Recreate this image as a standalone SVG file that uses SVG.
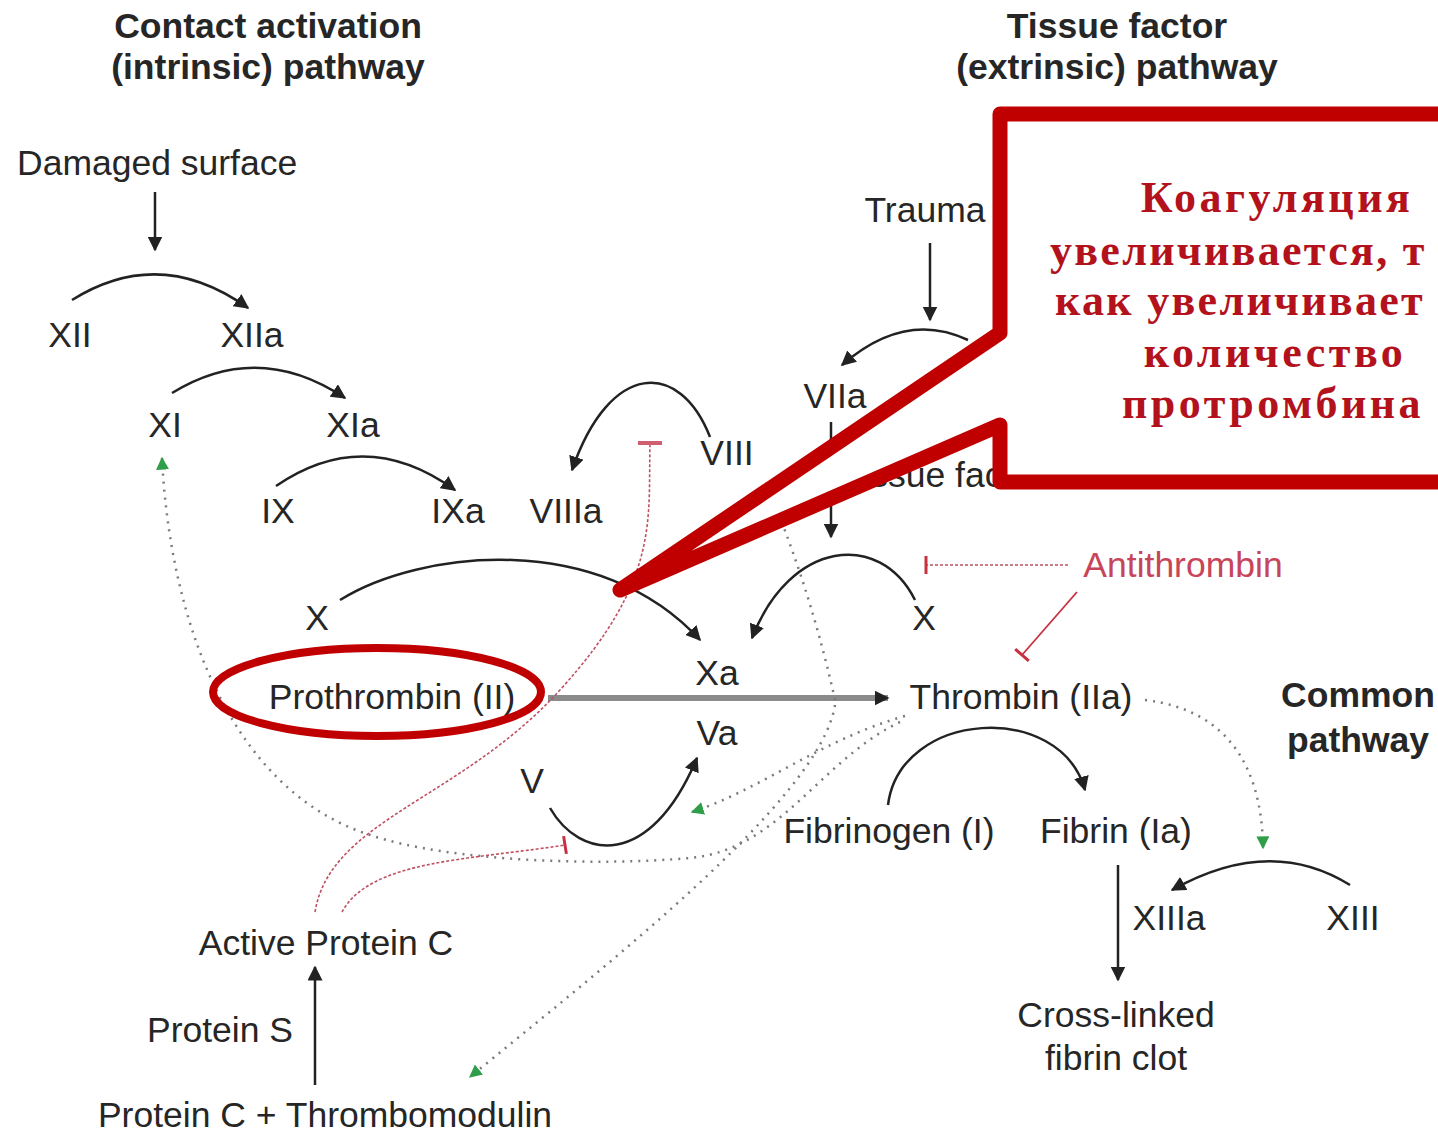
<svg xmlns="http://www.w3.org/2000/svg" width="1438" height="1133" viewBox="0 0 1438 1133">
<style>
text{font-family:"Liberation Sans",Arial,sans-serif;font-size:35.5px;fill:#262626}
.c{text-anchor:middle}
.b{font-weight:bold}
.red{fill:#c8445a}
.co{font-family:"Liberation Serif","Times New Roman",serif;font-weight:bold;font-size:44px;fill:#b3121c;letter-spacing:3.5px}
.tight{letter-spacing:2.3px}
.arc{fill:none;stroke:#222;stroke-width:2.5}
.dot{fill:none;stroke:#7a7a7a;stroke-width:2.5;stroke-dasharray:2 6}
.rdot{fill:none;stroke:#c05060;stroke-width:1.6;stroke-dasharray:3 2}
</style>
<defs>
<marker id="ah" viewBox="0 0 10 10" refX="9" refY="5" markerWidth="15" markerHeight="15" markerUnits="userSpaceOnUse" orient="auto"><path d="M0 0 L10 5 L0 10 Z" fill="#222"/></marker>
<marker id="gh" viewBox="0 0 10 10" refX="9" refY="5" markerWidth="13" markerHeight="13" markerUnits="userSpaceOnUse" orient="auto"><path d="M0 0 L10 5 L0 10 Z" fill="#2e9e48"/></marker>
<marker id="tee" viewBox="-2 -10 4 20" refX="0" refY="0" markerWidth="4" markerHeight="20" markerUnits="userSpaceOnUse" orient="auto"><path d="M0 -9 L0 9" stroke="#c83040" stroke-width="3"/></marker>
</defs>
<rect width="1438" height="1133" fill="#fff"/>

<g id="connectors">
<path class="arc" d="M155 192 L155 250" marker-end="url(#ah)"/>
<path class="arc" d="M72 300 Q160 245 248 308" marker-end="url(#ah)"/>
<path class="arc" d="M172 393 Q258 340 345 398" marker-end="url(#ah)"/>
<path class="arc" d="M276 486 Q365 425 455 490" marker-end="url(#ah)"/>
<path class="arc" d="M710 437 C680 360 610 360 572 470" marker-end="url(#ah)"/>
<path class="arc" d="M340 600 C420 550 600 530 700 640" marker-end="url(#ah)"/>
<path class="arc" d="M930 243 L930 320" marker-end="url(#ah)"/>
<path class="arc" d="M968 340 Q905 310 842 365" marker-end="url(#ah)"/>
<path class="arc" d="M831 422 L831 537" marker-end="url(#ah)"/>
<path class="arc" d="M915 600 C880 530 790 540 752 638" marker-end="url(#ah)"/>
<path d="M548 698 L888 698" stroke="#8a8a8a" stroke-width="6" fill="none" marker-end="url(#ah)"/>
<path class="arc" d="M550 808 C580 860 650 870 697 758" marker-end="url(#ah)"/>
<path class="arc" d="M888 805 C900 710 1060 700 1085 790" marker-end="url(#ah)"/>
<path class="arc" d="M1118 865 L1118 980" marker-end="url(#ah)"/>
<path class="arc" d="M1350 885 Q1270 835 1172 890" marker-end="url(#ah)"/>
<path class="arc" d="M315 1085 L315 967" marker-end="url(#ah)"/>

<path class="dot" d="M900 722 C820 760 780 850 690 858 S450 862 370 835 C230 790 170 620 162 458" marker-end="url(#gh)"/>
<path class="dot" d="M905 716 C820 740 760 790 692 812" marker-end="url(#gh)"/>
<path class="dot" d="M835 700 C815 610 790 540 766 483" marker-end="url(#gh)"/>
<path class="dot" d="M835 705 C820 800 600 970 470 1077" marker-end="url(#gh)"/>
<path class="dot" d="M1145 700 C1230 710 1262 770 1263 848" marker-end="url(#gh)"/>

<path class="rdot" d="M315 912 C330 820 460 800 560 690 S648 520 650 445"/>
<path d="M638 443 L662 443" stroke="#d06070" stroke-width="4"/>
<path class="rdot" d="M342 912 C370 860 470 860 565 845" marker-end="url(#tee)"/>
<path class="rdot" d="M1068 565 L926 565" marker-end="url(#tee)"/>
<path d="M1077 592 L1022 655" stroke="#c83040" stroke-width="1.8" fill="none" marker-end="url(#tee)"/>
</g>

<g id="headers">
<text class="c b" x="268" y="38">Contact activation</text>
<text class="c b" x="268" y="79">(intrinsic) pathway</text>
<text class="c b" x="1117" y="38">Tissue factor</text>
<text class="c b" x="1117" y="79">(extrinsic) pathway</text>
<text class="c b" x="1358" y="707">Common</text>
<text class="c b" x="1358" y="752">pathway</text>
</g>

<g id="n-damaged"><text x="17" y="175">Damaged surface</text></g>
<g id="n-XII"><text class="c" x="70" y="347">XII</text></g>
<g id="n-XIIa"><text class="c" x="252" y="347">XIIa</text></g>
<g id="n-XI"><text class="c" x="165" y="437">XI</text></g>
<g id="n-XIa"><text class="c" x="353" y="437">XIa</text></g>
<g id="n-IX"><text class="c" x="278" y="523">IX</text></g>
<g id="n-IXa"><text class="c" x="458" y="523">IXa</text></g>
<g id="n-VIIIa"><text class="c" x="566" y="523">VIIIa</text></g>
<g id="n-VIII"><text class="c" x="727" y="465">VIII</text></g>
<g id="n-trauma"><text class="c" x="925" y="222">Trauma</text></g>
<g id="n-VIIa"><text class="c" x="835" y="408">VIIa</text></g>
<g id="n-tf"><text x="842" y="487">Tissue factor</text></g>
<g id="n-X1"><text class="c" x="317" y="630">X</text></g>
<g id="n-X2"><text class="c" x="924" y="630">X</text></g>
<g id="n-Xa"><text class="c" x="717" y="685">Xa</text></g>
<g id="n-prothrombin"><text class="c" x="392" y="709">Prothrombin (II)</text></g>
<g id="n-thrombin"><text class="c" x="1021" y="709">Thrombin (IIa)</text></g>
<g id="n-Va"><text class="c" x="717" y="745">Va</text></g>
<g id="n-V"><text class="c" x="532" y="793">V</text></g>
<g id="n-antithrombin"><text class="c red" x="1183" y="577">Antithrombin</text></g>
<g id="n-fibrinogen"><text class="c" x="889" y="843">Fibrinogen (I)</text></g>
<g id="n-fibrin"><text class="c" x="1116" y="843">Fibrin (Ia)</text></g>
<g id="n-XIIIa"><text class="c" x="1169" y="930">XIIIa</text></g>
<g id="n-XIII"><text class="c" x="1353" y="930">XIII</text></g>
<g id="n-clot"><text class="c" x="1116" y="1027">Cross-linked</text><text class="c" x="1116" y="1070">fibrin clot</text></g>
<g id="n-apc"><text class="c" x="326" y="955">Active Protein C</text></g>
<g id="n-ps"><text class="c" x="220" y="1042">Protein S</text></g>
<g id="n-pctm"><text class="c" x="325" y="1127">Protein C + Thrombomodulin</text></g>

<g id="callout">
<path d="M1460 114 L1000 114 L1000 333 L620 590 L1000 425 L1000 482 L1460 482" fill="#fff" stroke="#c00000" stroke-width="15" stroke-linejoin="round"/>
<text class="co c" x="1277" y="212">Коагуляция</text>
<text class="co tight" x="1050" y="265">увеличивается, т</text>
<text class="co tight" x="1055" y="315">как увеличивает</text>
<text class="co c" x="1275" y="367">количество</text>
<text class="co c" x="1273" y="418">протромбина</text>
</g>

<g id="highlight">
<ellipse cx="377" cy="692" rx="164" ry="44" fill="none" stroke="#c00000" stroke-width="8"/>
</g>
</svg>
